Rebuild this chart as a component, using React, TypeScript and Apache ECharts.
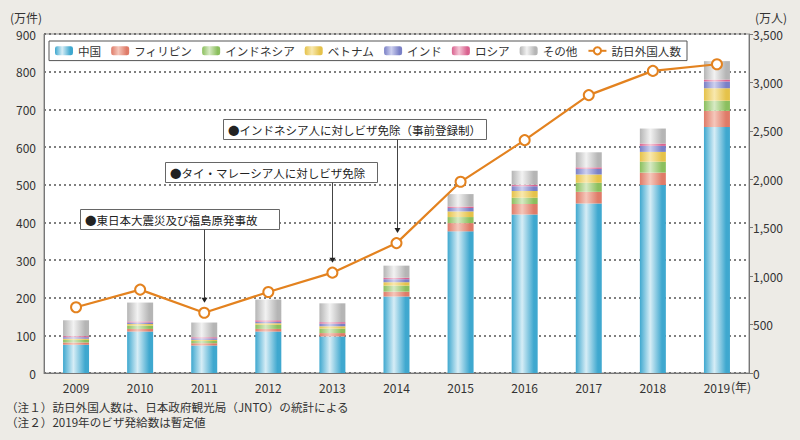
import React, { useEffect, useRef } from "react";
import * as echarts from "echarts";

const years = ["2009", "2010", "2011", "2012", "2013", "2014", "2015", "2016", "2017", "2018", "2019"];
const china = [75, 110, 73, 110, 97, 203, 376, 421, 450, 499, 653];
const philippines = [6, 7, 6, 7, 9, 13, 22, 28, 31, 33, 43];
const indonesia = [7, 9, 6, 11, 12, 16, 16, 16, 24, 29, 27];
const vietnam = [3, 4, 3, 4, 6, 9, 15, 18, 22, 26, 33];
const india = [4, 4, 4, 4, 7, 8, 9, 13, 15, 16, 18];
const russia = [3, 3, 3, 4, 4, 4, 4, 4, 4, 6, 5];
const other = [42, 50, 39, 55, 50, 32, 33, 37, 40, 40, 49];
const visitors = [679, 861, 622, 836, 1036, 1341, 1974, 2404, 2869, 3119, 3188];

const annotations = [
  { year: "2011", text: "●東日本大震災及び福島原発事故", left: 80, top: 209, width: 199 },
  { year: "2013", text: "●タイ・マレーシア人に対しビザ免除", left: 165, top: 162, width: 212 },
  { year: "2014", text: "●インドネシア人に対しビザ免除（事前登録制）", left: 223, top: 119, width: 263 },
];

const FONT = "'Noto Sans CJK JP', 'Noto Sans', sans-serif";

function grad(dark: string, light: string) {
  return new echarts.graphic.LinearGradient(0, 0, 1, 0, [
    { offset: 0, color: dark },
    { offset: 0.4, color: light },
    { offset: 0.85, color: dark },
    { offset: 1, color: dark },
  ]);
}

export default function App() {
  const ref = useRef<HTMLDivElement>(null);
  useEffect(() => {
    if (!ref.current) return;
    const chart = echarts.init(ref.current, undefined, { renderer: "svg" });
    const barSeries = [
      { name: "中国", data: china, c: grad("#3fa8cf", "#d6edf6") },
      { name: "フィリピン", data: philippines, c: grad("#df7b68", "#f5c7bb") },
      { name: "インドネシア", data: indonesia, c: grad("#8bbf5e", "#d7eac4") },
      { name: "ベトナム", data: vietnam, c: grad("#e5c24a", "#f8e8ae") },
      { name: "インド", data: india, c: grad("#7a80c6", "#cdd0ef") },
      { name: "ロシア", data: russia, c: grad("#d9628f", "#f4c6d6") },
      { name: "その他", data: other, c: grad("#b5b5b5", "#f2f2f2") },
    ].map((s) => ({
      name: s.name,
      type: "bar",
      stack: "visa",
      barWidth: 26,
      data: s.data,
      itemStyle: { color: s.c },
    }));
    const option: any = {
      animation: false,
      backgroundColor: "#edebe6",
      textStyle: { fontFamily: FONT },
      grid: { left: 44, right: 51, top: 34, bottom: 67, show: true, backgroundColor: "#ffffff", borderColor: "#8a8a8a", borderWidth: 1 },
      legend: {
        left: 49,
        top: 41,
        padding: [4, 6, 4, 6],
        itemGap: 10,
        itemWidth: 18,
        itemHeight: 9,
        borderColor: "#555",
        borderWidth: 1,
        backgroundColor: "#ffffff",
        textStyle: { fontSize: 11.6, color: "#333", fontFamily: FONT },
        data: ["中国", "フィリピン", "インドネシア", "ベトナム", "インド", "ロシア", "その他", "訪日外国人数"],
      },
      xAxis: {
        type: "category",
        data: years,
        axisLine: { lineStyle: { color: "#777", width: 1 } },
        axisTick: { inside: true, length: 4, lineStyle: { color: "#777" } },
        axisLabel: { color: "#333", fontSize: 12, margin: 8, fontFamily: FONT },
      },
      yAxis: [
        {
          type: "value",
          min: 0,
          max: 900,
          interval: 100,
          axisLine: { show: true, lineStyle: { color: "#777" } },
          axisTick: { show: false },
          axisLabel: { color: "#333", fontSize: 12, margin: 8, fontFamily: FONT },
          splitLine: { lineStyle: { type: [2, 3], color: "#555", width: 1.5 } },
        },
        {
          type: "value",
          min: 0,
          max: 3500,
          interval: 500,
          axisLine: { show: true, lineStyle: { color: "#777" } },
          axisTick: { show: true, length: 4, lineStyle: { color: "#777" } },
          axisLabel: {
            color: "#333",
            fontSize: 12,
            margin: 4,
            fontFamily: FONT,
            formatter: (v: number) => v.toLocaleString("en-US"),
          },
          splitLine: { show: false },
        },
      ],
      series: [
        ...barSeries,
        {
          name: "訪日外国人数",
          type: "line",
          yAxisIndex: 1,
          data: visitors,
          symbol: "circle",
          symbolSize: 10,
          lineStyle: { color: "#e3821f", width: 2.2 },
          itemStyle: { color: "#ffffff", borderColor: "#e3821f", borderWidth: 2 },
          z: 5,
        },
      ],
    };
    chart.setOption(option);

    const graphics: any[] = [
      { type: "text", left: 10, top: 11, style: { text: "(万件)", fontSize: 12, fill: "#333", fontFamily: FONT } },
      { type: "text", left: 755, top: 11, style: { text: "(万人)", fontSize: 12, fill: "#333", fontFamily: FONT } },
      { type: "text", left: 731, top: 380, style: { text: "(年)", fontSize: 12, fill: "#333", fontFamily: FONT } },
      { type: "text", left: 6, top: 401, style: { text: "（注１）訪日外国人数は、日本政府観光局（JNTO）の統計による", fontSize: 11.6, fill: "#333", fontFamily: FONT } },
      { type: "text", left: 6, top: 416, style: { text: "（注２）2019年のビザ発給数は暫定値", fontSize: 11.6, fill: "#333", fontFamily: FONT } },
    ];
    annotations.forEach((a) => {
      const idx = years.indexOf(a.year);
      const x = Math.round(chart.convertToPixel({ xAxisIndex: 0 }, a.year) as number) + 0.5;
      const py = chart.convertToPixel({ yAxisIndex: 1 }, visitors[idx]) as number;
      const tip = py - 10;
      const bottom = a.top + 20;
      graphics.push(
        { type: "rect", shape: { x: a.left + 0.5, y: a.top + 0.5, width: a.width, height: 20 }, style: { fill: "#fff", stroke: "#666", lineWidth: 1 }, z: 10 },
        { type: "text", x: a.left + 5, y: a.top + 10.5, style: { text: a.text, fontSize: 11.5, fill: "#222", fontFamily: FONT, verticalAlign: "middle" }, z: 11 },
        { type: "line", shape: { x1: x, y1: bottom + 0.5, x2: x, y2: tip - 4 }, style: { stroke: "#444", lineWidth: 1 }, z: 10 },
        { type: "polygon", shape: { points: [[x - 3, tip - 5], [x + 3, tip - 5], [x, tip]] }, style: { fill: "#222" }, z: 10 }
      );
    });
    chart.setOption({ graphic: graphics });
    return () => chart.dispose();
  }, []);
  return <div ref={ref} style={{ position: "fixed", left: 0, top: 0, width: 800, height: 440 }} />;
}
